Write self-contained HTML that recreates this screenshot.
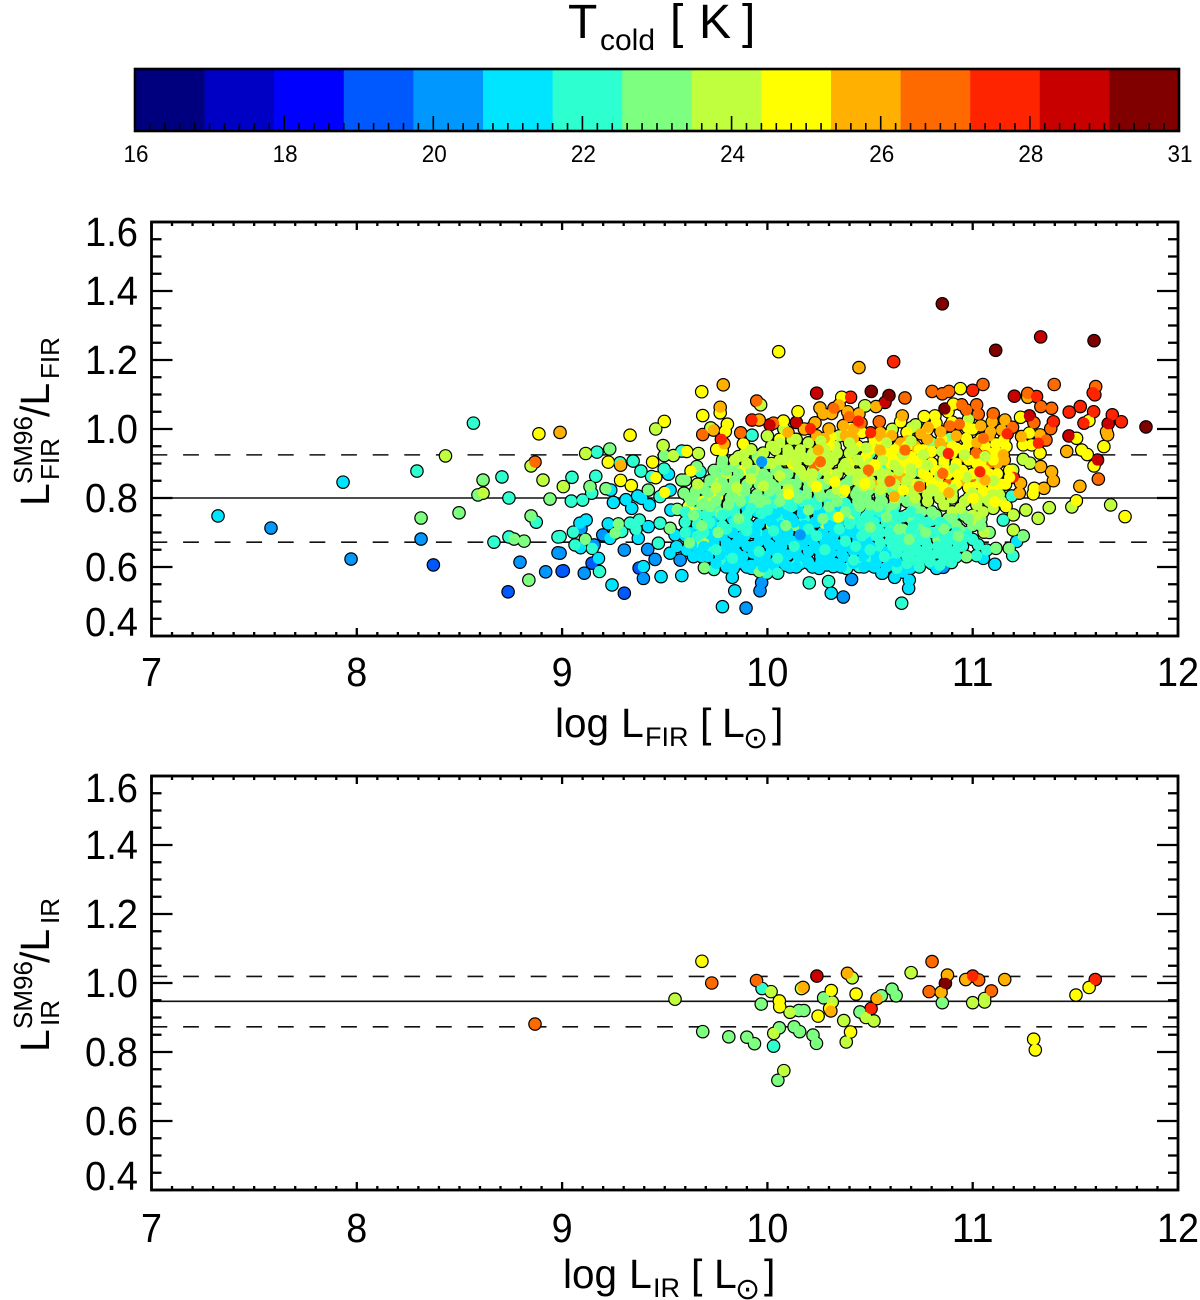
<!DOCTYPE html>
<html lang="en">
<head>
<meta charset="utf-8">
<title>Tcold scatter</title>
<style>
html,body{margin:0;padding:0;background:#fff;}
svg{display:block;}
text{font-family:"Liberation Sans","DejaVu Sans",sans-serif;fill:#000;}
</style>
</head>
<body>
<svg id="chart" width="1200" height="1300" viewBox="0 0 1200 1300" xmlns="http://www.w3.org/2000/svg">
  <rect x="0" y="0" width="1200" height="1300" fill="#fff"/>
  <g>
    <text x="568" y="38" font-size="48">T</text>
    <text x="600" y="50" font-size="30">cold</text>
    <text x="670" y="38" font-size="48">[</text>
    <text x="699" y="38" font-size="48">K</text>
    <text x="742" y="38" font-size="48">]</text>
  </g>
  <g id="colorbar"></g>
  <g id="panel-fir"></g>
  <g id="panel-ir"></g>

  <g>
    <text transform="translate(49 506) rotate(-90)" font-size="41">L</text>
    <text transform="translate(32 484) rotate(-90)" font-size="26">SM96</text>
    <text transform="translate(59 480) rotate(-90)" font-size="26">FIR</text>
    <text transform="translate(49 417) rotate(-90)" font-size="41">/L</text>
    <text transform="translate(59 379) rotate(-90)" font-size="26">FIR</text>
  </g>
  <g>
    <text x="555" y="737" font-size="41" textLength="54" lengthAdjust="spacingAndGlyphs">log</text>
    <text x="621" y="737" font-size="41">L</text>
    <text x="645" y="746" font-size="27">FIR</text>
    <text x="700" y="737" font-size="41">[</text>
    <text x="722" y="737" font-size="41">L</text>
    <text x="743" y="748" font-size="30" style="font-family:'DejaVu Sans',sans-serif">⊙</text>
    <text x="772" y="737" font-size="41">]</text>
  </g>
  <g>
    <text transform="translate(49 1052) rotate(-90)" font-size="41">L</text>
    <text transform="translate(32 1029) rotate(-90)" font-size="26">SM96</text>
    <text transform="translate(59 1026) rotate(-90)" font-size="26">IR</text>
    <text transform="translate(49 963) rotate(-90)" font-size="41">/L</text>
    <text transform="translate(59 924) rotate(-90)" font-size="26">IR</text>
  </g>
  <g>
    <text x="563" y="1288" font-size="41" textLength="54" lengthAdjust="spacingAndGlyphs">log</text>
    <text x="629" y="1288" font-size="41">L</text>
    <text x="653" y="1297" font-size="27">IR</text>
    <text x="691" y="1288" font-size="41">[</text>
    <text x="714" y="1288" font-size="41">L</text>
    <text x="735" y="1299" font-size="30" style="font-family:'DejaVu Sans',sans-serif">⊙</text>
    <text x="764" y="1288" font-size="41">]</text>
  </g>
</svg>
<script>
// ---- colour bar data ----
const barLevels = ["#00007f","#0000c4","#0000ff","#0058ff","#0098ff","#00e5ff","#2dffd0","#7dff80","#c0ff3d","#ffff00","#ffb000","#ff6a00","#ff2400","#c80000","#800000"];
const barMin = 16;
const barMax = 30;
const barTickValues = [16,18,20,22,24,26,28,30];
const barTickLabels = ["16","18","20","22","24","26","28","31"];

// ---- axis ticks ----
const xTickValues = [7,8,9,10,11,12];
const yTickValues = [0.4,0.6,0.8,1.0,1.2,1.4,1.6];
const yTickLabels = ["0.4","0.6","0.8","1.0","1.2","1.4","1.6"];

// ---- reference lines ----
const firSolidLevel = [0.8];
const firDashedLevels = [0.925,0.672];
const irSolidLevel = [0.947];
const irDashedLevels = [1.019,0.873];

// ---- upper panel: [log LFIR, ratio] grouped by Tcold ----
const firT19 = [[8.373,.606],[8.737,.528],[9.0,.588],[9.146,.611],[9.006,.589],[9.375,.597],[9.303,.524],[9.875,.616]];
const firT20 = [[7.582,.713],[7.972,.623],[8.313,.681],[8.795,.614],[8.92,.586],[8.98,.641],[8.99,.64],[9.156,.664],[9.108,.582],[9.092,.711],[9.198,.693],[9.303,.649],[9.417,.651],[9.453,.622],[9.396,.567],[9.575,.62],[9.891,.606],[9.972,.555],[9.964,.531],[9.896,.481],[10.074,.613],[10.41,.564],[10.37,.513],[10.857,.599]];
const firT21 = [[7.324,.748],[7.933,.846],[9.117,.736],[9.087,.727],[9.177,.625],[9.225,.725],[9.233,.683],[9.09,.656],[9.237,.823],[9.25,.787],[9.311,.795],[9.339,.77],[9.368,.806],[9.388,.799],[9.425,.78],[9.518,.869],[9.526,.823],[9.53,.765],[9.396,.601],[9.482,.572],[9.583,.575],[9.243,.548],[9.371,.683],[9.42,.717],[9.55,.693],[9.526,.64],[9.558,.659],[9.607,.649],[9.64,.63],[9.68,.63],[9.753,.649],[9.818,.62],[9.834,.596],[9.829,.57],[9.923,.596],[9.841,.531],[9.781,.485],[10.2,.611],[10.253,.596],[10.289,.606],[10.321,.601],[10.503,.606],[10.557,.582],[10.311,.524],[10.691,.562],[10.688,.538],[10.561,.582],[10.5,.606],[10.735,.606],[10.824,.596],[10.695,.596],[11.214,.674],[11.052,.625],[11.108,.608],[10.54,.746],
[9.62,.70],[9.66,.72],[9.7,.68],[9.74,.72],[9.78,.70],[9.8,.67],[9.83,.74],[9.85,.64],[9.88,.69],[9.91,.72],[9.93,.66],[9.96,.62],[9.98,.69],[10.0,.74],[10.02,.65],[10.05,.71],[10.07,.63],[10.09,.68],[10.12,.74],[10.14,.65],[10.16,.71],[10.19,.62],[10.2,.68],[10.23,.73],[10.25,.65],[10.27,.7],[10.3,.62],[10.31,.67],[10.34,.73],[10.36,.64],[10.38,.69],[10.41,.61],[10.42,.71],[10.45,.66],[10.48,.63],[10.5,.69],[10.53,.61],[10.56,.65],[10.6,.62],[10.64,.6],[10.67,.64],[10.72,.62],[10.77,.63],[10.8,.61],[9.9,.77],[9.95,.76],[10.02,.78],[10.08,.77],[10.15,.78],[10.22,.77],[10.28,.76],[10.35,.77],[9.8,.6],[9.85,.61],[9.9,.6],[9.94,.595],[10.0,.61],[10.03,.6],[10.11,.6],[10.16,.61],[10.22,.6],[10.26,.615],[10.33,.61],[10.44,.615],[10.52,.6],[10.62,.57],[10.66,.585],[10.47,.675],[10.33,.7],[10.06,.665],[9.93,.7],[9.86,.675],[9.76,.75],[9.66,.66],[9.6,.69]];
const firT22 = [[8.293,.878],[8.568,1.017],[8.668,.672],[8.707,.861],[8.741,.8],[8.741,.687],[8.874,.73],[8.98,.687],[8.99,.688],[9.055,.701],[9.063,.664],[9.147,.654],[9.182,.587],[9.17,.933],[9.282,.902],[9.346,.907],[9.583,.936],[9.384,.878],[9.497,.884],[9.436,.862],[9.048,.86],[9.164,.863],[9.144,.814],[9.045,.791],[9.1,.794],[9.477,.804],[9.672,.876],[9.75,.879],[9.696,.823],[9.29,.703],[9.376,.736],[9.331,.727],[9.36,.709],[9.477,.727],[9.469,.669],[9.656,.659],[9.74,.593],[9.704,.707],[9.729,.683],[9.785,.64],[9.769,.62],[9.997,.582],[10.05,.582],[10.143,.608],[10.386,.596],[10.448,.601],[10.204,.554],[10.298,.558],[10.654,.495],[10.63,.596],[10.897,.613],[10.93,.659],[10.979,.746],[11.027,.664],[11.068,.649],[11.019,.633],[11.195,.633],[11.149,.736],[11.19,.806],[9.925,.982],[10.594,.896],[10.743,.876],
[9.65,.76],[9.7,.75],[9.75,.77],[9.8,.76],[9.85,.78],[9.9,.8],[9.95,.79],[10.0,.8],[10.05,.81],[10.1,.79],[10.15,.81],[10.2,.79],[10.25,.8],[10.3,.79],[10.35,.8],[10.4,.77],[10.43,.74],[10.46,.72],[10.5,.76],[10.52,.73],[10.55,.7],[10.57,.76],[10.6,.68],[10.62,.72],[10.65,.7],[10.67,.66],[10.7,.69],[10.72,.65],[10.75,.68],[10.78,.66],[10.8,.7],[10.83,.64],[10.85,.67],[10.88,.65],[10.9,.69],[10.92,.63],[10.95,.66],[10.97,.7],[11.0,.68],[10.6,.64],[10.7,.62],[9.72,.66],[9.78,.64],[9.86,.72],[9.95,.7],[10.06,.74],[10.18,.74],[10.3,.73],[10.44,.78],[10.62,.775],[10.76,.63],[10.86,.62],[10.8,.735],[10.92,.755],[10.54,.65],[10.5,.63],[10.9,.83],[10.42,.855],[10.56,.9],[10.5,.93]];
const firT23 = [[8.313,.742],[8.498,.757],[8.615,.852],[8.59,.809],[8.766,.681],[8.815,.675],[8.838,.562],[8.849,.748],[8.941,.797],[9.232,.942],[9.136,.833],[9.498,.923],[9.42,.823],[9.214,.827],[9.274,.725],[9.258,.698],[9.113,.68],[9.526,.712],[9.583,.852],[9.6,.852],[9.656,.891],[9.594,.814],[9.648,.799],[9.561,.767],[9.769,.756],[9.656,.678],[9.693,.598],[9.961,.587],[9.782,.91],[11.246,.69],[11.178,.654],[11.113,.654],[10.938,.707],
[9.62,.8],[9.68,.83],[9.72,.81],[9.76,.86],[9.8,.83],[9.84,.85],[9.88,.82],[9.92,.87],[9.96,.84],[10.0,.86],[10.04,.83],[10.08,.87],[10.12,.84],[10.16,.86],[10.2,.83],[10.24,.87],[10.28,.84],[10.32,.86],[10.36,.83],[10.4,.85],[10.44,.82],[10.48,.8],[10.52,.83],[10.55,.79],[10.6,.77],[10.64,.8],[10.68,.75],[10.72,.78],[10.76,.72],[10.8,.76],[10.84,.71],[10.88,.74],[10.92,.72],[10.96,.75],[11.0,.72],[11.04,.74],[11.08,.7],[10.66,.71],[10.74,.7],[9.9,.9],[9.95,.92],[10.0,.9],[10.05,.88],[9.78,.9],[9.84,.89],[10.8,.96],[10.889,.973],[9.74,.845],[9.68,.78],[9.98,.78],[10.13,.72],[10.6,.73],[10.7,.74],[10.83,.68],[10.97,.63]];
const firT24 = [[8.432,.922],[8.615,.814],[8.849,.893],[8.907,.852],[9.006,.833],[9.115,.929],[9.456,1.0],[9.492,.952],[9.542,.923],[9.664,.929],[9.648,.756],[9.688,.674],[9.761,.843],[9.724,1.003],[9.967,1.07],[9.886,.927],[10.474,1.067],[10.477,1.067],[10.608,.999],[10.508,.947],[10.722,1.012],[10.703,1.004],[10.979,1.028],[11.246,.912],[11.279,.901],[11.259,.765],[11.319,.741],[11.373,.772],[11.195,.881],[11.198,.751],[11.198,.707],[11.055,.701],[11.019,.736],[11.483,.774],[11.672,.78],
[9.8,.87],[9.86,.92],[9.9,.94],[9.94,.88],[9.98,.93],[10.02,.95],[10.06,.91],[10.1,.94],[10.13,.89],[10.17,.92],[10.2,.96],[10.22,.88],[10.26,.93],[10.3,.9],[10.33,.95],[10.37,.89],[10.4,.93],[10.44,.87],[10.47,.9],[10.5,.85],[10.54,.88],[10.57,.83],[10.6,.86],[10.64,.82],[10.67,.85],[10.7,.8],[10.74,.83],[10.78,.79],[10.82,.82],[10.86,.78],[10.9,.8],[10.94,.77],[10.98,.8],[11.02,.78],[11.06,.8],[11.1,.77],[11.14,.79],[11.0,.75],[11.05,.76],[10.9,.76],[10.76,.88],[10.35,.98],[10.28,.97],[10.12,.97],[10.0,.98],[10.08,1.0],[9.86,.8],[9.74,.79],[10.02,.72],[10.28,.725],[10.4,.75],[10.68,.92],[10.86,.9],[11.08,.93]];
const firT25 = [[8.887,.986],[9.498,1.022],[9.331,.982],[9.225,.904],[9.441,.904],[9.607,.935],[9.456,.859],[9.285,.851],[9.337,.836],[9.5,.816],[9.628,.878],[9.691,.792],[9.615,.775],[9.758,.804],[10.055,1.224],[9.68,1.108],[9.77,1.047],[9.685,1.039],[10.362,1.092],[10.149,1.05],[10.078,1.023],[9.805,1.014],[9.795,.993],[9.753,.941],[9.78,.937],[9.883,.957],[10.407,1.002],[10.31,.978],[10.94,1.117],[10.906,1.072],[10.649,1.021],[10.764,1.036],[10.816,1.038],[10.821,1.017],[10.975,1.004],[10.97,.973],[11.233,1.034],[11.06,.951],[11.113,.957],[11.152,.968],[11.162,.949],[11.121,.93],[11.276,.988],[11.246,.954],[11.287,.954],[11.328,.93],[11.3,.828],[11.295,.812],[11.162,.775],[11.566,1.024],[11.506,.973],[11.639,.949],[11.531,.939],[11.558,.926],[11.591,.893],[11.505,.792],[11.742,.746],[10.667,.93],[10.638,.905],[10.73,.902],[10.922,.944],[10.597,.93],
[10.12,.9],[10.16,.88],[10.22,.92],[10.3,.87],[10.4,.9],[10.44,.95],[10.48,.92],[10.52,.97],[10.56,.93],[10.6,.9],[10.64,.95],[10.66,.87],[10.7,.92],[10.72,.84],[10.76,.94],[10.78,.86],[10.8,.9],[10.83,.85],[10.85,.97],[10.87,.88],[10.9,.93],[10.92,.84],[10.95,.88],[10.98,.96],[11.0,.84],[11.02,.9],[11.05,.82],[11.08,.87],[11.1,.93],[11.14,.84],[11.18,.88],[11.12,.8],[10.06,.97],[10.3,.95],[10.46,.99],[10.58,.98],[10.68,.99],[10.78,1.0],[10.9,1.02],[11.0,1.0],[11.04,.97],[10.88,1.05],[10.1,.81],[10.35,.74],[10.24,.83],[10.33,.845],[10.37,.815],[9.88,.88]];
const firT26 = [[8.99,.99],[9.285,.895],[9.785,1.128],[9.77,1.063],[9.737,.997],[9.789,.957],[9.96,1.026],[10.446,1.178],[10.232,1.018],[10.256,1.061],[10.272,1.044],[10.313,1.045],[10.35,1.07],[10.391,1.05],[10.446,1.044],[10.37,1.01],[10.529,1.065],[10.277,.973],[10.419,.973],[10.516,.838],[10.552,.978],[10.552,.936],[10.605,.981],[10.643,.862],[10.657,1.038],[10.683,.966],[10.784,1.005],[10.748,.986],[10.845,.992],[10.84,.959],[10.789,.93],[10.959,.925],[10.881,.817],[11.06,.85],[11.095,1.021],[11.039,1.009],[11.087,.992],[11.157,1.026],[11.141,.997],[11.149,.925],[11.154,.91],[11.233,.843],[11.227,.814],[11.238,.978],[11.328,.983],[11.331,.891],[11.384,.876],[11.393,.85],[11.347,.828],[11.268,1.092],[11.458,.935],[11.652,.992],[11.657,.983],[11.522,.834],
[10.1,.99],[10.18,1.0],[10.24,.98],[10.3,1.0],[10.38,.98],[10.42,1.0],[10.55,.99],[10.65,.96],[10.72,.95],[10.78,.97],[10.85,.95],[10.92,.98],[10.96,.92],[11.02,.96],[11.08,.98],[11.12,.9],[10.65,.86],[10.8,.84],[10.95,.85]];
const firT27 = [[8.868,.904],[9.685,.984],[9.948,1.081],[9.87,.989],[10.03,1.017],[10.324,1.06],[10.399,1.036],[10.456,1.017],[10.545,1.021],[10.67,1.09],[10.802,1.109],[10.852,1.102],[10.884,1.109],[10.946,1.07],[10.97,1.055],[11.019,1.07],[11.027,1.043],[11.05,1.129],[11.1,1.044],[11.194,1.005],[10.889,1.009],[10.935,1.014],[11.052,.973],[11.016,.93],[11.06,.923],[11.084,.902],[10.995,.862],[10.845,.872],[10.667,.934],[10.74,.833],[10.597,.847],[10.492,.878],[11.298,1.018],[11.38,1.001],[11.357,.968],[11.268,1.103],[11.332,1.065],[11.384,1.06],[11.397,1.129],[11.599,1.123],[11.612,.855],[10.23,.89],[10.88,.84]];
const firT28 = [[9.925,1.026],[9.776,.97],[10.405,1.092],[10.443,1.023],[10.503,.989],[10.21,1.001],[10.615,1.195],[11.0,1.112],[11.311,1.094],[11.393,1.021],[11.32,.959],[11.168,.986],[11.198,.86],[11.035,.876],[10.881,.932],[11.47,1.049],[11.524,1.065],[11.587,1.105],[11.595,1.099],[11.589,1.05],[11.68,1.041],[11.724,1.021],[11.542,1.017]];
const firT29 = [[10.24,1.104],[10.013,1.012],[10.141,1.019],[10.573,1.077],[11.203,1.095],[11.276,1.038],[11.331,1.267],[11.66,1.015],[11.469,.98],[11.608,.91]];
const firT30 = [[10.506,1.109],[10.592,1.097],[10.852,1.363],[11.112,1.228],[11.591,1.256],[11.844,1.006],[10.865,1.058]];

// Points estimated inside the dense cloud, drawn after the hot points above.
const firCloudT21 = [[9.75,.61],[9.81,.6],[9.87,.615],[9.92,.605],[9.98,.6],[10.04,.615],[10.09,.605],[10.14,.6],[10.2,.615],[10.25,.6],[10.31,.615],[10.36,.6],[10.42,.61],[10.47,.6],[10.53,.615],[10.58,.6],[10.63,.615],
[9.66,.64],[9.71,.63],[9.77,.635],[9.82,.645],[9.88,.63],[9.93,.64],[9.99,.63],[10.04,.645],[10.1,.635],[10.15,.63],[10.2,.645],[10.26,.63],[10.31,.64],[10.37,.63],[10.42,.645],[10.47,.635],[10.53,.63],[10.58,.64],
[9.63,.665],[9.69,.66],[9.74,.67],[9.8,.66],[9.85,.67],[9.9,.66],[9.96,.675],[10.01,.665],[10.07,.66],[10.12,.675],[10.17,.665],[10.23,.66],[10.28,.675],[10.34,.665],[10.39,.66],[10.44,.675],[10.5,.66],
[9.72,.695],[9.78,.69],[9.83,.7],[9.89,.69],[9.94,.7],[10.0,.695],[10.05,.69],[10.1,.7],[10.16,.69],[10.21,.7],[10.27,.695],[10.32,.69],[10.38,.7],[10.43,.695],
[9.96,.725],[10.02,.73],[10.07,.72],[10.13,.73],[10.18,.72],[10.24,.73],[10.3,.72],[10.35,.73],
[10.04,.755],[10.1,.75],[10.17,.755],[10.25,.75]];
const firCloudT22 = [[10.68,.61],[10.74,.6],[10.79,.615],[10.84,.605],[10.89,.615],
[10.63,.64],[10.69,.635],[10.74,.645],[10.8,.635],[10.85,.645],[10.9,.635],
[10.55,.67],[10.61,.66],[10.66,.675],[10.72,.665],[10.77,.675],[10.83,.66],[10.88,.675],[10.93,.665],
[9.6,.7],[9.66,.69],[10.48,.7],[10.53,.69],[10.59,.7],[10.64,.69],[10.7,.705],[10.75,.695],[10.81,.7],[10.86,.69],[10.92,.7],[10.97,.69],
[9.6,.73],[9.66,.725],[9.72,.73],[9.78,.72],[9.84,.73],[9.9,.725],[10.4,.725],[10.46,.73],[10.52,.72],[10.58,.73],[10.63,.72],[10.71,.72],[10.78,.73],[10.87,.72],
[9.6,.76],[9.66,.75],[9.72,.76],[9.78,.75],[9.84,.76],[9.9,.75],[9.97,.755],[10.31,.755],[10.37,.75],[10.43,.76],[10.49,.75],[10.55,.76],[10.62,.75],[10.7,.76],
[10.04,.785],[10.1,.78],[10.17,.79],[10.24,.78],[10.31,.79],[10.38,.785]];
const firCloudT23 = [[9.63,.79],[9.69,.785],[9.75,.79],[9.81,.78],[9.87,.79],[9.93,.78],[9.99,.79],[10.44,.79],[10.5,.78],[10.56,.79],[10.62,.785],[10.68,.79],[10.75,.76],[10.82,.75],[10.9,.74],[10.98,.74],[11.04,.72],
[9.65,.82],[9.71,.815],[9.77,.82],[9.83,.81],[9.89,.82],[9.95,.81],[10.01,.82],[10.07,.81],[10.13,.82],[10.19,.81],[10.25,.82],[10.31,.81],[10.37,.82],[10.43,.81],[10.49,.82],[10.55,.81],[10.61,.82],
[9.72,.85],[9.78,.845],[9.84,.85],[9.9,.84],[9.96,.85],[10.02,.84],[10.08,.85],[10.14,.84],[10.2,.85],[10.26,.84],[10.32,.85],[10.38,.84],
[9.74,.88],[9.8,.88],[9.86,.87],[9.92,.88],[9.98,.87],[10.04,.88],[10.1,.87]];
const firCloudT24 = [[10.72,.8],[10.78,.81],[10.84,.8],[10.9,.81],[10.96,.79],[11.02,.8],[11.08,.79],[11.13,.81],
[10.44,.85],[10.5,.84],[10.56,.85],[10.62,.84],[10.68,.85],[10.74,.84],
[10.16,.88],[10.22,.87],[10.28,.88],[10.34,.87],[10.4,.88],[10.46,.87],[10.52,.88],[10.58,.87],[10.64,.88],[10.7,.87],
[9.84,.91],[9.9,.9],[9.96,.91],[10.02,.9],[10.08,.91],[10.14,.9],[10.2,.91],[10.26,.9],[10.32,.91],[10.38,.9],[10.44,.91],[10.5,.9],[10.56,.91],
[9.92,.94],[9.98,.93],[10.04,.94],[10.1,.93],[10.16,.94],[10.22,.93],[10.28,.94],[10.34,.93],[10.42,.94],
[10.06,.96],[10.14,.97],[10.26,.965]];
const firCloudT25 = [[10.8,.84],[10.86,.83],[10.92,.84],[10.98,.83],[11.04,.84],[11.1,.83],[11.16,.84],
[10.76,.87],[10.82,.88],[10.88,.87],[10.94,.88],[11.0,.87],[11.06,.88],[11.12,.87],[11.18,.86],
[10.62,.91],[10.68,.9],[10.74,.91],[10.8,.9],[10.86,.91],[10.92,.9],[10.98,.91],[11.04,.9],[11.1,.91],
[10.5,.94],[10.56,.95],[10.62,.94],[10.68,.95],[10.74,.94],[10.8,.935],[10.9,.95],[10.96,.94]];

// Mixed points that break up the colour bands and close gaps in the cloud.
const firMixT22 = [[10.42,.62],[10.5,.65],[10.57,.63],[10.63,.66],[10.68,.63],[10.46,.69],[10.54,.71],[10.6,.675],[10.35,.71],[10.28,.65],[10.2,.71],[10.13,.66],[10.05,.625],[9.96,.645],[9.83,.625],[9.75,.65],[9.69,.7],[9.8,.71],[9.9,.705],[10.03,.705],[10.24,.69],[10.38,.675],[10.43,.66],[10.75,.625],[10.85,.66],[10.95,.68],[10.66,.745],[10.74,.74],[10.84,.73],[10.48,.745],[10.12,.775],[9.92,.77],[10.0,.765]];
const firMixT23 = [[10.5,.715],[10.58,.745],[10.64,.71],[10.69,.68],[10.77,.7],[10.86,.71],[10.93,.69],[10.3,.775],[10.38,.76],[10.45,.775],[10.54,.775],[10.2,.765],[10.06,.79],[9.94,.8],[9.82,.8],[9.72,.775],[9.64,.75],[9.68,.72],[9.62,.67],[9.76,.7],[9.86,.74],[10.15,.8],[10.26,.805],[10.34,.79],[10.09,.72],[10.27,.74]];
const firMixT24 = [[10.62,.895],[10.7,.885],[10.78,.895],[10.84,.865],[10.91,.885],[10.97,.86],[11.04,.86],[11.1,.85],[10.56,.865],[10.66,.925],[10.76,.925],[10.85,.935],[10.96,.925],[11.06,.92],[10.55,.825],[10.62,.8],[10.7,.82],[10.8,.825],[10.9,.825],[11.0,.815],[11.1,.81],[10.47,.835],[10.34,.825],[10.22,.845],[10.1,.825],[9.98,.835],[9.85,.83],[9.75,.83],[9.66,.84],[9.92,.855],[10.06,.865],[10.18,.865],[10.3,.855],[10.12,.925],[10.3,.92],[10.48,.945],[10.58,.96],[10.7,.965],[10.4,.96]];

// Individually visible points sitting on top of the cloud.
const firTopT20 = [[9.972,.905],[10.16,.693]];
const firTopT25 = [[10.24,.833],[10.329,.847],[10.378,.823],[10.102,.811],[10.345,.744],[10.524,.896],[10.475,.842],[10.662,.823],[10.93,.867],[11.003,.799],[11.108,.789],[11.162,.777]];
const firTopT26 = [[10.884,.815],[10.618,.804],[11.06,.852],[10.248,.939],[10.548,.939]];
const firTopT27 = [[10.258,.905],[10.492,.881],[10.597,.849],[10.74,.833],[10.67,.939],[10.854,.871]];
const firTopT28 = [[11.035,.876],[10.881,.929]];

const firTemps = [19,20,21,22,23,24,25,26,27,28,29,30,21,22,23,24,25,22,23,24,20,25,26,27,28];
const firGroups = [firT19,firT20,firT21,firT22,firT23,firT24,firT25,firT26,firT27,firT28,firT29,firT30,firCloudT21,firCloudT22,firCloudT23,firCloudT24,firCloudT25,firMixT22,firMixT23,firMixT24,firTopT20,firTopT25,firTopT26,firTopT27,firTopT28];

// ---- lower panel: [log LIR, ratio] grouped by Tcold ----
const irTemps = [22,23,24,25,26,27,28,29,30];
const irT22 = [[9.974,.984],[10.03,.817]];
const irT23 = [[9.685,.859],[9.812,.844],[9.9,.843],[9.937,.824],[9.97,.939],[10.153,.92],[10.178,.92],[10.058,.87],[10.13,.873],[10.157,.859],[10.222,.849],[10.239,.825],[10.051,.718],[10.274,.957],[10.451,.916],[10.555,.963],[10.607,.982],[10.627,.963],[10.852,.943]];
const irT24 = [[9.55,.953],[10.018,.975],[10.11,.915],[10.031,.854],[10.08,.746],[10.166,.984],[10.316,.945],[10.372,.891],[10.384,.829],[10.413,1.015],[10.48,.9],[10.519,.89],[10.7,1.03],[11.0,.943],[11.058,.955],[11.058,.945]];
const irT25 = [[9.681,1.063],[10.058,.948],[10.06,.931],[10.311,.978],[10.303,.926],[10.247,.904],[10.405,.858],[10.432,.968],[11.297,.837],[11.305,.806],[11.503,.965],[11.567,.987]];
const irT26 = [[10.174,.987],[10.309,.919],[10.39,1.028],[10.534,.955],[10.846,.973],[10.877,1.023],[10.966,1.01],[11.156,1.01]];
const irT27 = [[8.868,.881],[9.729,1.0],[9.947,1.007],[10.802,1.062],[10.788,.975],[11.029,1.009],[11.091,.977]];
const irT28 = [[10.505,.926],[11.0,1.02],[11.597,1.01]];
const irT29 = [[10.241,1.02]];
const irT30 = [[10.867,.999]];
const irGroups = [irT22,irT23,irT24,irT25,irT26,irT27,irT28,irT29,irT30];

// ---- layout ----
const SVGNS = "http://www.w3.org/2000/svg";
const plotLeft = 151.5, plotRight = 1178;
const firBox = {top:222, bottom:636};
const irBox = {top:776, bottom:1190};
const barBox = {left:135, right:1179, top:69, bottom:131};

function xScale(v){ return plotLeft + (v-7)/(12-7)*(plotRight-plotLeft); }
function yScaleFor(box){ return function(v){ return box.bottom - (v-0.4)/(1.6-0.4)*(box.bottom-box.top); }; }
function barScale(v){ return barBox.left + (v-barMin)/(barMax-barMin)*(barBox.right-barBox.left); }
function colorOf(t){
  const i = Math.floor((t-barMin)/(barMax-barMin)*barLevels.length);
  return barLevels[Math.max(0,Math.min(barLevels.length-1,i))];
}
function mk(parent, tag, attrs){
  const el = document.createElementNS(SVGNS, tag);
  for(const k in attrs){ el.setAttribute(k, attrs[k]); }
  parent.appendChild(el);
  return el;
}

// ---- colour bar ----
(function(){
  const root = document.getElementById('colorbar');
  const w = (barBox.right-barBox.left)/barLevels.length;
  barLevels.forEach(function(c,i){
    const r = mk(root,'rect',{x:barBox.left+i*w,y:barBox.top,width:w+0.5,height:barBox.bottom-barBox.top,fill:c});
    
    
  });
  for(let k=0;k<=(barMax-barMin)*5;k++){
    const v = barMin + k/5;
    const major = k%10===0;
    const t = mk(root,'line',{x1:barScale(v),x2:barScale(v),y1:barBox.bottom,y2:barBox.bottom-(major?15:8),stroke:'#000','stroke-width':1.6});
    
    
  }
  const f = mk(root,'rect',{x:barBox.left,y:barBox.top,width:barBox.right-barBox.left,height:barBox.bottom-barBox.top,fill:'none',stroke:'#000','stroke-width':2.6});
  
  
  barTickValues.forEach(function(v,i){
    const l = mk(root,'text',{x:barScale(v)+1,y:162,'font-size':24.5,'text-anchor':'middle',textLength:25,lengthAdjust:'spacingAndGlyphs'});
    
    
    l.textContent = barTickLabels[i];
  });
})();

// ---- panels ----
function drawPanel(rootId, box, solid, dashed, temps, groups, xLabelOffset, topLabelOffset, bottomLabelBaseline){
  const root = document.getElementById(rootId);
  const y = yScaleFor(box);
  const refs = mk(root,'g',{});
  
  
  solid.forEach(function(v){
    const l = mk(refs,'line',{x1:plotLeft,x2:plotRight,y1:y(v),y2:y(v),stroke:'#111','stroke-width':1.6});
    
    
  });
  dashed.forEach(function(v){
    const l = mk(refs,'line',{x1:plotLeft,x2:plotRight,y1:y(v),y2:y(v),stroke:'#111','stroke-width':1.6,'stroke-dasharray':'15.8 15.8'});
    
    
  });
  // All outlines first, then all fills, so outlines show only at the cloud's outer edge.
  const outlines = mk(root,'g',{fill:'#000'});
  
  
  const fills = mk(root,'g',{});
  
  
  groups.forEach(function(pts,gi){
    const col = colorOf(temps[gi]);
    pts.forEach(function(p){
      const o = mk(outlines,'circle',{cx:xScale(p[0]),cy:y(p[1]),r:6.8});
      
      
      const c = mk(fills,'circle',{cx:xScale(p[0]),cy:y(p[1]),r:5.6,fill:col});
      
      
    });
  });
  // ticks
  const ticks = mk(root,'g',{stroke:'#000','stroke-width':2.3});
  
  
  for(let k=0;k<=50;k++){
    const v = 7+k/10, major = k%10===0, len = major?8:4, xp = xScale(v);
    const a = mk(ticks,'line',{x1:xp,x2:xp,y1:box.bottom,y2:box.bottom-len});
    
    
    const b = mk(ticks,'line',{x1:xp,x2:xp,y1:box.top,y2:box.top+len});
    
    
  }
  for(let k=0;k<=24;k++){
    const v = 0.4+k*0.05, major = k%4===0, len = major?21:10, yp = y(v);
    const a = mk(ticks,'line',{x1:plotLeft,x2:plotLeft+len,y1:yp,y2:yp});
    
    
    const b = mk(ticks,'line',{x1:plotRight,x2:plotRight-len,y1:yp,y2:yp});
    
    
  }
  const frame = mk(root,'rect',{x:plotLeft,y:box.top,width:plotRight-plotLeft,height:box.bottom-box.top,fill:'none',stroke:'#000','stroke-width':2.8});
  
  
  xTickValues.forEach(function(v){
    const s = String(v);
    const l = mk(root,'text',{x:xScale(v),y:box.bottom+xLabelOffset,'font-size':41,'text-anchor':'middle',textLength:s.length*21,lengthAdjust:'spacingAndGlyphs'});
    
    
    l.textContent = s;
  });
  yTickValues.forEach(function(v,i){
    let base = y(v)+14;
    if(i===0){ base = bottomLabelBaseline; }
    if(i===yTickValues.length-1){ base = y(v)+topLabelOffset; }
    const l = mk(root,'text',{x:138,y:base,'font-size':41,'text-anchor':'end',textLength:53,lengthAdjust:'spacingAndGlyphs'});
    
    
    l.textContent = yTickLabels[i];
  });
}
drawPanel('panel-fir', firBox, firSolidLevel, firDashedLevels, firTemps, firGroups, 50, 24, 636);
drawPanel('panel-ir', irBox, irSolidLevel, irDashedLevels, irTemps, irGroups, 52, 26, 1190);
</script>
</body>
</html>
